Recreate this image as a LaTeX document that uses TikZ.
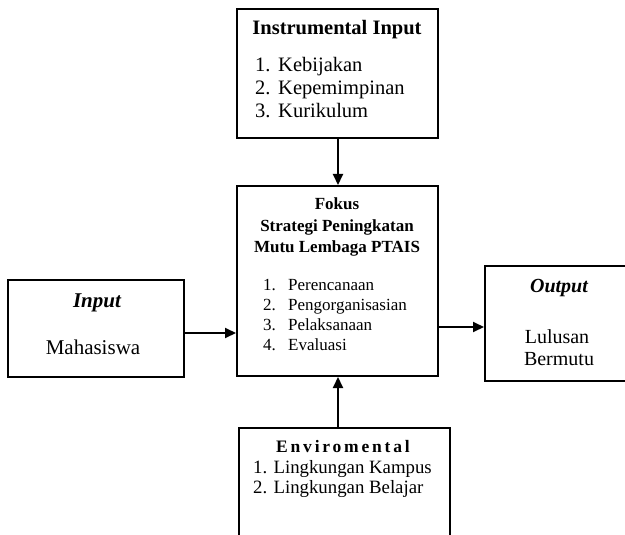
\documentclass[tikz,border=0pt]{standalone}
\usepackage{fontspec}
\setmainfont{Liberation Serif}
\usetikzlibrary{arrows.meta}
\begin{document}
\begin{tikzpicture}[x=1pt,y=-1pt,
  box/.style={draw, line width=2pt, anchor=north west, inner sep=0pt},
  arr/.style={line width=2pt, -{Triangle[length=11pt,width=10pt]}},
  txt/.style={inner sep=0pt, anchor=base},
  lft/.style={inner sep=0pt, anchor=base west}]
\useasboundingbox (0,0) rectangle (625,535);
\clip (0,0) rectangle (625,535);
% boxes
\node[box, minimum width=201pt, minimum height=129pt] (instr) at (236,8) {};
\node[box, minimum width=201pt, minimum height=190pt] (center) at (236,185) {};
\node[box, minimum width=176pt, minimum height=97pt] (input) at (7,279) {};
\node[box, minimum width=160pt, minimum height=115pt] (out) at (484,265) {};
\node[box, minimum width=211pt, minimum height=140pt] (env) at (238,427) {};
% instrumental input
\node[txt, font=\bfseries\fontsize{20.5}{24}\selectfont] (t1) at (337,35) {Instrumental Input};
\node[lft, font=\fontsize{20.5}{24}\selectfont] (i1) at (255,72) {1.};
\node[lft, font=\fontsize{20.5}{24}\selectfont] (i1t) at (278,72) {Kebijakan};
\node[lft, font=\fontsize{20.5}{24}\selectfont] (i2) at (255,95) {2.};
\node[lft, font=\fontsize{20.5}{24}\selectfont] (i2t) at (278,95) {Kepemimpinan};
\node[lft, font=\fontsize{20.5}{24}\selectfont] (i3) at (255,118) {3.};
\node[lft, font=\fontsize{20.5}{24}\selectfont] (i3t) at (278,118) {Kurikulum};
% center
\node[txt, font=\bfseries\fontsize{17}{20}\selectfont] (c0) at (337,209) {Fokus};
\node[txt, font=\bfseries\fontsize{17}{20}\selectfont] (c1) at (337,232) {Strategi Peningkatan};
\node[txt, font=\bfseries\fontsize{17}{20}\selectfont] (c2) at (337,252) {Mutu Lembaga PTAIS};
\node[lft, font=\fontsize{17}{20}\selectfont] (l1) at (263,290) {1.};
\node[lft, font=\fontsize{17}{20}\selectfont] (l1t) at (288,290) {Perencanaan};
\node[lft, font=\fontsize{17}{20}\selectfont] (l2) at (263,310) {2.};
\node[lft, font=\fontsize{17}{20}\selectfont] (l2t) at (288,310) {Pengorganisasian};
\node[lft, font=\fontsize{17}{20}\selectfont] (l3) at (263,330) {3.};
\node[lft, font=\fontsize{17}{20}\selectfont] (l3t) at (288,330) {Pelaksanaan};
\node[lft, font=\fontsize{17}{20}\selectfont] (l4) at (263,350) {4.};
\node[lft, font=\fontsize{17}{20}\selectfont] (l4t) at (288,350) {Evaluasi};
% input
\node[txt, font=\bfseries\itshape\fontsize{21}{24}\selectfont] (in0) at (97,307) {Input};
\node[txt, font=\fontsize{21}{24}\selectfont] (in1) at (93,354) {Mahasiswa};
% output
\node[txt, font=\bfseries\itshape\fontsize{20}{24}\selectfont] (o0) at (559,292) {Output};
\node[txt, font=\fontsize{20}{24}\selectfont] (o1) at (557,343) {Lulusan};
\node[txt, font=\fontsize{20}{24}\selectfont] (o2) at (559,365) {Bermutu};
% environmental
\node[txt, font=\bfseries\fontsize{17.5}{20}\selectfont\addfontfeatures{LetterSpace=16}] (e0) at (343,452) {Enviromental};
\node[lft, font=\fontsize{18.8}{20}\selectfont] (e1) at (253,473) {1. Lingkungan Kampus};
\node[lft, font=\fontsize{18.8}{20}\selectfont] (e2) at (253,493) {2. Lingkungan Belajar};
% arrows
\draw[arr] (instr.south -| 338,0) -- (center.north -| 338,0);
\draw[arr] (env.north -| 338,0) -- (center.south -| 338,0);
\draw[arr] (input.east |- 0,333) -- (center.west |- 0,333);
\draw[arr] (center.east |- 0,327) -- (out.west |- 0,327);
\end{tikzpicture}
\end{document}
